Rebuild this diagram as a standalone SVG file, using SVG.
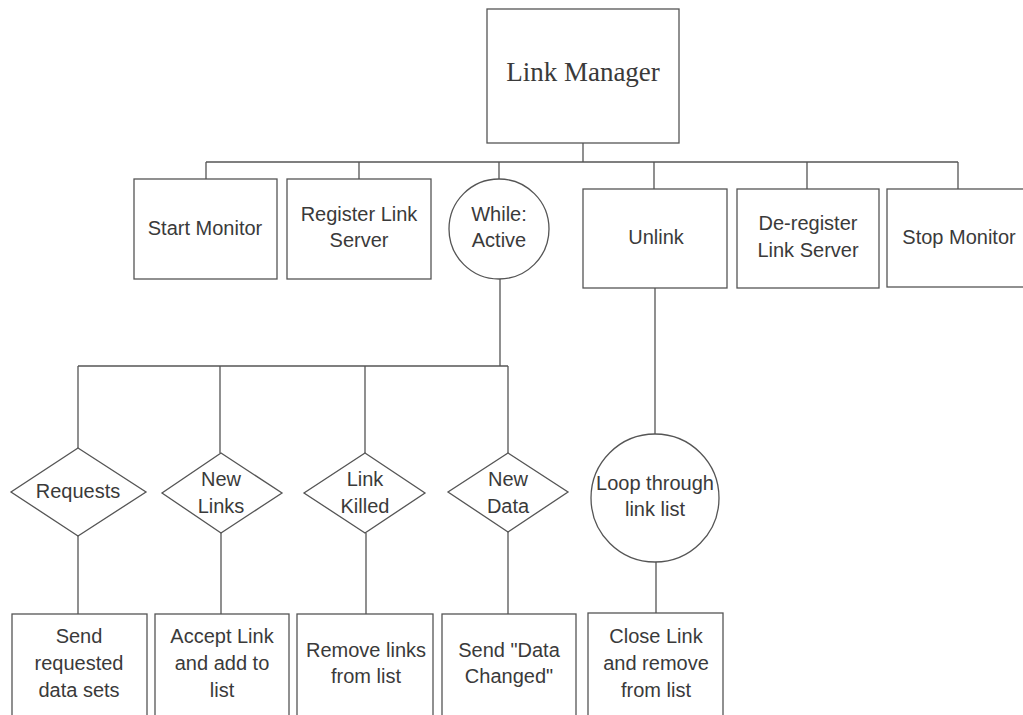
<svg xmlns="http://www.w3.org/2000/svg" width="1023" height="715" viewBox="0 0 1023 715">
<style>
.s{fill:#fff;stroke:#555;stroke-width:1.3}
.c{fill:none;stroke:#555;stroke-width:1.3}
.t{font-family:"Liberation Sans",Arial,sans-serif;font-size:20px;fill:#3a3a3a;text-anchor:middle}
.m{font-family:"Liberation Serif","Times New Roman",serif;font-size:27px;fill:#3a3a3a;text-anchor:middle}
</style>
<rect width="1023" height="715" fill="#fff"/>
<g id="connectors">
<path class="c" d="M583 143V162M206 162H958M206 162V179M359 162V179M499 162V179M654 162V189M807 162V189M958 162V189"/>
<path class="c" d="M500 278V366M78 366H508M78 366V448M220 366V453M365 366V453M508 366V453"/>
<path class="c" d="M78 536V614M221 533V614M366 533V614M508 532V614"/>
<path class="c" d="M655 288V434M656 562V613"/>
</g>
<g id="link-manager"><rect class="s" x="487" y="9" width="192" height="134"/><text class="m" x="583" y="81">Link Manager</text></g>
<g id="start-monitor"><rect class="s" x="134" y="179" width="143" height="100"/><text class="t" x="205" y="235">Start Monitor</text></g>
<g id="register"><rect class="s" x="287" y="179" width="144" height="100"/><text class="t" x="359" y="221">Register Link</text><text class="t" x="359" y="247">Server</text></g>
<g id="while-active"><circle class="s" cx="499" cy="229" r="50"/><text class="t" x="499" y="221">While:</text><text class="t" x="499" y="247">Active</text></g>
<g id="unlink"><rect class="s" x="583" y="189" width="144" height="99"/><text class="t" x="656" y="244">Unlink</text></g>
<g id="deregister"><rect class="s" x="737" y="189" width="142" height="99"/><text class="t" x="808" y="230">De-register</text><text class="t" x="808" y="257">Link Server</text></g>
<g id="stop-monitor"><rect class="s" x="887" y="189" width="150" height="98"/><text class="t" x="959" y="244">Stop Monitor</text></g>
<g id="requests"><polygon class="s" points="78,448 146,492 78,536 11,492"/><text class="t" x="78" y="498">Requests</text></g>
<g id="new-links"><polygon class="s" points="221,453 282,493 221,533 162,493"/><text class="t" x="221" y="486">New</text><text class="t" x="221" y="513">Links</text></g>
<g id="link-killed"><polygon class="s" points="365,453 425,493 365,533 304,493"/><text class="t" x="365" y="486">Link</text><text class="t" x="365" y="513">Killed</text></g>
<g id="new-data"><polygon class="s" points="508,453 568,492 508,532 448,492"/><text class="t" x="508" y="486">New</text><text class="t" x="508" y="513">Data</text></g>
<g id="loop"><circle class="s" cx="655" cy="498" r="64"/><text class="t" x="655" y="490">Loop through</text><text class="t" x="655" y="516">link list</text></g>
<g id="send-requested"><rect class="s" x="12" y="614" width="135" height="110"/><text class="t" x="79" y="643">Send</text><text class="t" x="79" y="670">requested</text><text class="t" x="79" y="697">data sets</text></g>
<g id="accept-link"><rect class="s" x="155" y="614" width="134" height="110"/><text class="t" x="222" y="643">Accept Link</text><text class="t" x="222" y="670">and add to</text><text class="t" x="222" y="697">list</text></g>
<g id="remove-links"><rect class="s" x="297" y="614" width="136" height="110"/><text class="t" x="366" y="657">Remove links</text><text class="t" x="366" y="683">from list</text></g>
<g id="send-data-changed"><rect class="s" x="442" y="614" width="134" height="110"/><text class="t" x="509" y="657">Send "Data</text><text class="t" x="509" y="683">Changed"</text></g>
<g id="close-link"><rect class="s" x="588" y="613" width="135" height="110"/><text class="t" x="656" y="643">Close Link</text><text class="t" x="656" y="670">and remove</text><text class="t" x="656" y="697">from list</text></g>
</svg>
